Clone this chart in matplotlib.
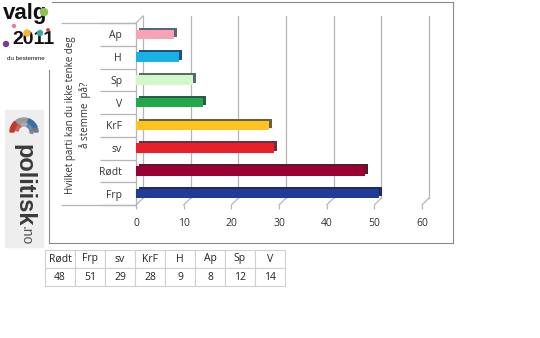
import numpy as np
import matplotlib
matplotlib.use("Agg")
import matplotlib.pyplot as plt
from matplotlib.transforms import ScaledTranslation
from matplotlib.patches import Rectangle, Circle, Wedge

plt.rcParams['font.family'] = ['Open Sans', 'DejaVu Sans']

# data, top to bottom as in the chart
parties = ['Ap', 'H', 'Sp', 'V', 'KrF', 'sv', 'Rødt', 'Frp']
votes = [8, 9, 12, 14, 28, 29, 48, 51]
colors = ['#f5a3b5', '#18b2e6', '#d2f7c8', '#20a84a', '#ffc21e', '#e8202c', '#9b0034', '#213a96']
shades = ['#5a6480', '#24507e', '#5a6a6a', '#2a5a4a', '#6a6040', '#6a3040', '#5a1a2a', '#1a2a6a']

# table below the chart
table_cols = ['Rødt', 'Frp', 'sv', 'KrF', 'H', 'Ap', 'Sp', 'V']
table_vals = [48, 51, 29, 28, 9, 8, 12, 14]

W, H = 540, 338
fig = plt.figure(figsize=(W / 100, H / 100), dpi=100)

# decoration layer in pixel coordinates
deco = fig.add_axes([0, 0, 1, 1])
deco.set_xlim(0, W)
deco.set_ylim(H, 0)
deco.axis('off')

frame_c = '#8a8a8a'
deco.plot([52, 453], [2, 2], color=frame_c, lw=0.8)
deco.plot([453, 453], [2, 243], color=frame_c, lw=0.8)
deco.plot([49, 453], [243, 243], color=frame_c, lw=0.8)
deco.plot([49, 49], [70, 243], color=frame_c, lw=0.8)

deco.text(78, 115, 'Hvilket parti kan du ikke tenke deg\nå stemme  på?', rotation=90,
          ha='center', va='center', multialignment='center', fontsize=7, color='#333333',
          linespacing=1.3)

# valg 2011 logo
deco.text(25, 13, 'valg', fontsize=16, fontweight='bold', family='Liberation Sans',
          ha='center', va='center', color='#111111')
deco.text(33, 39, '2011', fontsize=14, fontweight='bold', family='Liberation Sans',
          ha='center', va='center', color='#111111')
deco.text(26, 58, 'du bestemme', fontsize=4.5, family='Liberation Sans',
          ha='center', va='center', color='#111111')
for (cx, cy, r, c) in [(44, 12, 3.5, '#8cc152'), (14, 26, 1.5, '#e87a9a'),
                       (27, 33, 3, '#f2b632'), (40, 33, 2.5, '#3aa6a0'),
                       (6, 44, 2.5, '#7a3d8f'), (48, 30, 1.2, '#cc4444')]:
    deco.add_patch(Circle((cx, cy), r, color=c, zorder=3))

# politisk.no logo
deco.add_patch(Rectangle((5, 110), 38, 137, color='#eeeeee', zorder=1))
for (t1, t2, c) in [(180, 230, '#c0392b'), (235, 285, '#999999'), (290, 340, '#3b6ea5'),
                    (345, 360, '#777777')]:
    deco.add_patch(Wedge((24, 132), 14, t1, t2, width=4, color=c, zorder=2))
    deco.add_patch(Wedge((24, 132), 9, t1 + 10, t2 + 10, width=3, color=c, zorder=2, alpha=0.7))
deco.text(24, 185, 'politisk', rotation=-90, fontsize=17, fontweight='bold',
          family='Liberation Sans', ha='center', va='center', color='#3a3a3a', zorder=3)
deco.text(26, 236, '.no', rotation=-90, fontsize=10, family='Liberation Sans',
          ha='center', va='center', color='#555555', zorder=3)

# main chart
ax = fig.add_axes([136 / W, 1 - 205 / H, 286 / W, 182 / H])
ax.set_facecolor('none')
ax.set_xlim(0, 60)
ax.set_ylim(len(parties) - 0.5, -0.5)

back = ax.transData + ScaledTranslation(7 / 100, 7 / 100, fig.dpi_scale_trans)
depth = ax.transData + ScaledTranslation(3 / 100, 2 / 100, fig.dpi_scale_trans)
inv = ax.transData.inverted()

grid_c = '#b5b5b5'
ybot, ytop = len(parties) - 0.5, -0.5
for x in range(0, 61, 10):
    ax.plot([x, x], [ybot, ytop], color=grid_c, lw=0.9, transform=back, clip_on=False, zorder=1)
    # floor slant from front to back
    a = inv.transform(ax.transData.transform((x, ybot)))
    b = inv.transform(back.transform((x, ybot)))
    ax.plot([a[0], b[0]], [a[1], b[1]], color=grid_c, lw=0.9, clip_on=False, zorder=1)
a = inv.transform(ax.transData.transform((0, ytop)))
b = inv.transform(back.transform((0, ytop)))
ax.plot([a[0], b[0]], [a[1], b[1]], color=grid_c, lw=0.9, clip_on=False, zorder=1)

y = np.arange(len(parties))
ax.barh(y, votes, height=0.42, color=shades, transform=depth, zorder=2)
ax.barh(y, votes, height=0.42, color=colors, zorder=3)

# category label box
ax.hlines(np.arange(len(parties) + 1) - 0.5, -7.5, 0, color=grid_c, lw=0.9, clip_on=False)
ax.hlines([ytop, ybot], -15.8, 0, color=grid_c, lw=0.9, clip_on=False)

for s in ['top', 'right', 'bottom']:
    ax.spines[s].set_visible(False)
ax.spines['left'].set_color(grid_c)
ax.spines['left'].set_linewidth(0.9)

ax.set_xticks(range(0, 61, 10))
ax.set_yticks(y)
ax.set_yticklabels(parties)
ax.tick_params(axis='x', length=3, width=0.9, color=grid_c, pad=6, labelsize=7.5, labelcolor='#333333')
ax.tick_params(axis='y', length=0, pad=10, labelsize=7.5, labelcolor='#333333')

# data table
tax = fig.add_axes([45 / W, 1 - 286 / H, 240 / W, 36 / H])
tax.axis('off')
tbl = tax.table(cellText=[[str(v) for v in table_vals]], colLabels=table_cols,
                cellLoc='center', bbox=[0, 0, 1, 1])
tbl.auto_set_font_size(False)
tbl.set_fontsize(7.5)
for cell in tbl.get_celld().values():
    cell.set_edgecolor('#d0d0d0')
    cell.set_linewidth(0.8)
    cell.get_text().set_color('#222222')

fig.savefig('out.png', dpi=100)
